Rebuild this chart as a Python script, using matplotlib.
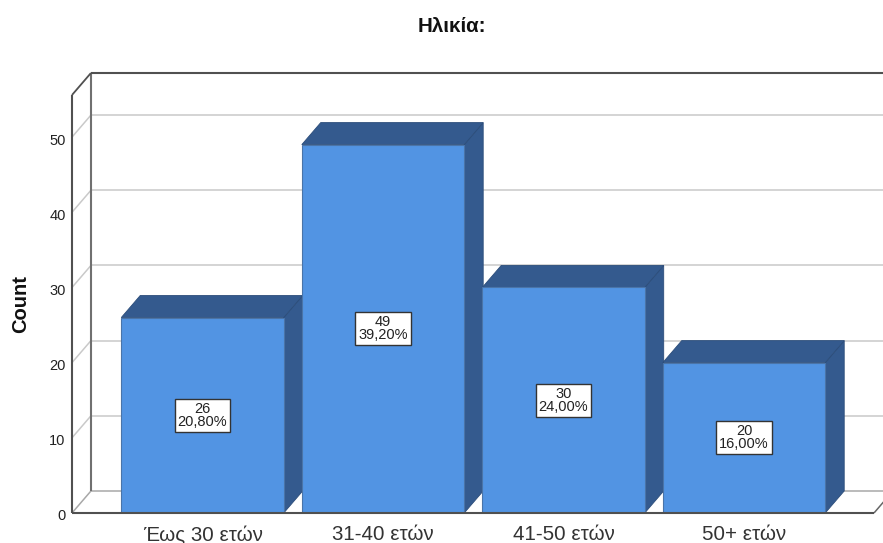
import matplotlib
matplotlib.use('Agg')
import matplotlib.pyplot as plt
from matplotlib.patches import Polygon
from matplotlib.transforms import ScaledTranslation

plt.rcParams['font.family'] = ['Liberation Sans', 'DejaVu Sans']

categories = ['Έως 30 ετών', '31-40 ετών', '41-50 ετών', '50+ ετών']
counts = [26, 49, 30, 20]
percents = ['20,80%', '39,20%', '24,00%', '16,00%']
y_ticks = [0, 10, 20, 30, 40, 50]

# depth of the fake 3D box, in axis units
DX = 0.105
DY = 2.93
BAR_W = 0.9
XMIN, XMAX = -0.723, 3.72
YMAX = 55.6

FRONT = '#5294e3'
DARK = '#345a8e'
GRID = '#c9c9c9'

fig = plt.figure(figsize=(8.83, 5.43), dpi=100)
ax = fig.add_axes([72 / 883, 30 / 543, (874 - 72) / 883, (513 - 95) / 543])
ax.set_xlim(XMIN, XMAX)
ax.set_ylim(0, YMAX)
for s in ax.spines.values():
    s.set_visible(False)


def line(xs, ys, color, lw=1.3, z=1):
    ax.plot(xs, ys, color=color, lw=lw, clip_on=False, zorder=z, solid_capstyle='butt')


# gridlines on side and back walls
far = XMAX + DX
for v in y_ticks[1:]:
    line([XMIN, XMIN + DX], [v, v + DY], GRID, 1.1)
    line([XMIN + DX, far], [v + DY, v + DY], GRID, 1.1)

# floor
line([XMIN, XMIN + DX], [0, DY], '#a8a8a8', 1.1)
line([XMIN + DX, far], [DY, DY], '#a8a8a8', 1.1)
line([XMAX, far], [0, DY], '#666666', 1.1)

# box frame
line([XMIN + DX, XMIN + DX], [DY, YMAX + DY], '#707070', 1.5, 2)
line([XMIN + DX, far], [YMAX + DY, YMAX + DY], '#505050', 1.5, 2)
line([XMIN, XMIN + DX], [YMAX, YMAX + DY], '#505050', 1.3, 2)
line([XMIN, XMIN], [0, YMAX], '#505050', 1.5, 2)

# bars: side and top faces first, then the front
for i, c in enumerate(counts):
    x0 = i - BAR_W / 2
    x1 = i + BAR_W / 2
    side = [(x1, 0), (x1 + DX, DY), (x1 + DX, c + DY), (x1, c)]
    top = [(x0, c), (x0 + DX, c + DY), (x1 + DX, c + DY), (x1, c)]
    ax.add_patch(Polygon(side, fc=DARK, ec='#2c4d7a', lw=0.6, zorder=3, clip_on=False))
    ax.add_patch(Polygon(top, fc=DARK, ec='#2c4d7a', lw=0.6, zorder=3, clip_on=False))
    ax.bar(i, c, width=BAR_W, color=FRONT, edgecolor='#4a74a8', linewidth=0.8, zorder=4)
    ax.text(i, c / 2, f'{c}\n{percents[i]}', ha='center', va='center', fontsize=10.5,
            linespacing=0.9, color='#222222', zorder=5,
            bbox=dict(boxstyle='square,pad=0.2', fc='white', ec='#333333', lw=1))

# front floor edge on top of the bars
line([XMIN, XMAX], [0, 0], '#505050', 1.5, 6)

ax.set_yticks(y_ticks)
ax.set_xticks(range(len(categories)))
ax.set_xticklabels(categories, fontsize=14.8, color='#333333')
ax.tick_params(axis='x', length=0, pad=9)
ax.tick_params(axis='y', length=0, pad=4.5, labelsize=10.5, labelcolor='#222222')
ax.set_ylabel('Count', fontsize=14.5, fontweight='bold', color='#111111')
ax.yaxis.set_label_coords((30 - 72) / (874 - 72), 0.5)

# nudge the value labels down a little from their gridlines
nudge = ScaledTranslation(0, -2 / 100, fig.dpi_scale_trans)
for lab in ax.get_yticklabels():
    lab.set_transform(lab.get_transform() + nudge)

fig.text(452 / 883, 1 - 26 / 543, 'Ηλικία:', ha='center', va='center',
         fontsize=14.8, fontweight='bold', color='#111111')

fig.savefig('out.png', dpi=100)
